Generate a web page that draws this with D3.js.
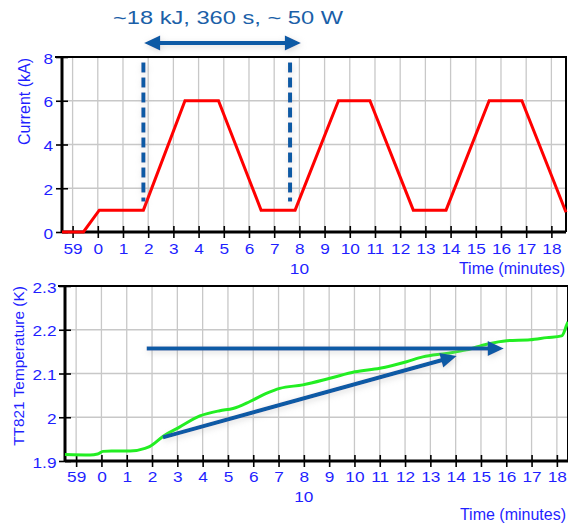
<!DOCTYPE html>
<html>
<head>
<meta charset="utf-8">
<script src="https://cdn.jsdelivr.net/npm/d3@7"></script>
<style>
  body { margin: 0; background: #fff; }
  svg { display: block; font-family: "Liberation Sans", Arial, sans-serif; }
</style>
</head>
<body>
<div id="chart"></div>
<script>
// magnet current, minutes after the hour vs kA
const currentTime = [-1.42, -0.57, 0.06, 1.81, 3.46, 4.79, 6.48, 7.83, 9.55, 10.8, 12.52, 13.82, 15.53, 16.83, 18.58];
const currentKA   = [0, 0, 1, 1, 6, 6, 1, 1, 6, 6, 1, 1, 6, 6, 0.9];

// TT821 temperature, minutes vs K
const tempTime = [-1.44, -0.45, -0.15, 0.06, 0.4, 1.13, 1.72, 1.9, 2.43, 3.1, 3.89, 4.68, 5.2, 5.87, 6.54, 7.05, 7.96, 9.03, 10.02, 11.0, 12.06, 12.7, 13.64, 14.43, 15.23, 16.02, 16.94, 17.6, 18.19, 18.39, 18.44];
const tempK    = [1.915, 1.914, 1.916, 1.922, 1.923, 1.923, 1.929, 1.933, 1.956, 1.978, 2.003, 2.015, 2.02, 2.036, 2.055, 2.066, 2.074, 2.089, 2.104, 2.112, 2.127, 2.138, 2.146, 2.154, 2.167, 2.175, 2.177, 2.182, 2.186, 2.211, 2.218];

// ticks
const minuteTicks = d3.range(-1, 19);
const minuteLabels = ["59", "0", "1", "2", "3", "4", "5", "6", "7", "8", "9", "10", "11", "12", "13", "14", "15", "16", "17", "18"];
const minuteMinor = d3.range(-7, 93).map(d => d / 5).filter(d => !Number.isInteger(d));
const hourLabel = ["10"];
const hourAt = [8];
const currentTicks = [0, 2, 4, 6, 8];
const currentMinor = [1, 3, 5, 7];
const tempTicks = [1.9, 2.0, 2.1, 2.2, 2.3];
const tempLabels = ["1.9", "2", "2.1", "2.2", "2.3"];
const tempMinor = [1.95, 2.05, 2.15, 2.25];

// annotations
const titleText = "~18 kJ, 360 s, ~ 50 W";
const markerTimes = [1.81, 7.63];
const markerRange = [1.4, 7.75];
const spanTimes = [1.84, 8.06];
const spanLevel = [8.64];
const flatTimes = [1.79, 15.9];
const flatLevel = [2.157, 2.157];
const slopeTimes = [2.43, 14.04];
const slopeLevel = [1.954, 2.14];

const W = 568, H = 526;
const blue = "#1f1fff";
const annot = "#0b5aa5";

const svg = d3.select("#chart").append("svg")
  .attr("width", W).attr("height", H);

const defs = svg.append("defs");
const glow = defs.append("filter").attr("id", "glow")
  .attr("x", "-20%").attr("y", "-50%").attr("width", "140%").attr("height", "200%");
glow.append("feGaussianBlur").attr("in", "SourceAlpha").attr("stdDeviation", 3).attr("result", "b");
glow.append("feOffset").attr("in", "b").attr("dx", 1).attr("dy", 2).attr("result", "o");
glow.append("feFlood").attr("flood-color", "#b0b0b0").attr("flood-opacity", 0.45);
glow.append("feComposite").attr("in2", "o").attr("operator", "in").attr("result", "s");
const merge = glow.append("feMerge");
merge.append("feMergeNode").attr("in", "s");
merge.append("feMergeNode").attr("in", "SourceGraphic");

const xTop = d3.scaleLinear().domain([-1.42, 18.58]).range([62, 566]);
const yTop = d3.scaleLinear().domain([0, 8]).range([232, 57]);
const xBot = d3.scaleLinear().domain([-1.44, 18.44]).range([65, 568]);
const yBot = d3.scaleLinear().domain([1.9, 2.3]).range([461, 286]);

function panel(x, y, yTicks, yLabels, yMinor, opt) {
  const g = svg.append("g");
  const [x0, x1] = x.range();
  const [yb, yt] = y.range();

  // grid
  g.append("g").selectAll("line").data(minuteTicks).join("line")
    .attr("x1", d => x(d)).attr("x2", d => x(d))
    .attr("y1", yt).attr("y2", yb)
    .attr("stroke", "#c8c8c8").attr("stroke-width", 1.3);
  g.append("g").selectAll("line").data(yTicks.slice(1, -1)).join("line")
    .attr("x1", x0).attr("x2", x1)
    .attr("y1", d => y(d)).attr("y2", d => y(d))
    .attr("stroke", "#c8c8c8").attr("stroke-width", 1.3);

  // frame top + right
  g.append("path")
    .attr("d", `M${x0 - 7},${yt}H${x1}V${yb}`)
    .attr("fill", "none").attr("stroke", "#000").attr("stroke-width", 2);

  // x axis, crossing ticks
  const xa = g.append("g").attr("transform", `translate(0,${yb})`);
  xa.call(d3.axisBottom(x).tickValues(minuteMinor).tickSize(3.5).tickSizeOuter(0).tickFormat(""));
  xa.call(d3.axisBottom(x).tickValues(minuteTicks).tickSize(6).tickSizeOuter(0)
    .tickFormat((d, i) => minuteLabels[i]));
  xa.selectAll(".tick line").each(function () {
    const l = d3.select(this);
    l.attr("y1", -l.attr("y2"));
  });
  xa.selectAll(".tick line").attr("stroke", "#000").attr("stroke-width", 1.6);
  xa.select(".domain").remove();
  xa.append("line").attr("x1", x0).attr("x2", x1).attr("stroke", "#000").attr("stroke-width", 3);
  xa.selectAll("text")
    .attr("y", opt.tickY).attr("dy", "0.71em")
    .attr("fill", blue).attr("font-size", 15)
    .attr("transform", "scale(1.15,1)");

  // y axis
  const ya = g.append("g").attr("transform", `translate(${x0},0)`);
  ya.call(d3.axisLeft(y).tickValues(yMinor).tickSize(3.5).tickSizeOuter(0).tickFormat(""));
  ya.call(d3.axisLeft(y).tickValues(yTicks).tickSize(6).tickSizeOuter(0)
    .tickFormat((d, i) => yLabels[i]));
  ya.selectAll(".tick line").each(function () {
    const l = d3.select(this);
    l.attr("x1", -l.attr("x2"));
  });
  ya.selectAll(".tick line").attr("stroke", "#000").attr("stroke-width", 1.6);
  ya.select(".domain").remove();
  ya.append("line").attr("y1", yt).attr("y2", yb).attr("stroke", "#000").attr("stroke-width", 3);
  ya.selectAll("text")
    .attr("x", opt.labelX).attr("dy", "0.4em")
    .attr("fill", blue).attr("font-size", 15)
    .attr("transform", "scale(1.15,1)");

  // hour + axis titles
  g.selectAll(".hour").data(hourAt).join("text")
    .attr("transform", d => `translate(${x(d)},${opt.hourY}) scale(1.15,1)`)
    .attr("text-anchor", "middle").attr("fill", blue).attr("font-size", 15)
    .text((d, i) => hourLabel[i]);
  g.append("text")
    .attr("x", opt.timeX).attr("y", opt.timeY)
    .attr("text-anchor", "end").attr("fill", blue).attr("font-size", 16)
    .text("Time (minutes)");
  g.append("text")
    .attr("transform", `translate(${opt.yTitleX},${opt.yTitleY}) rotate(-90)`)
    .attr("text-anchor", "middle").attr("fill", blue).attr("font-size", opt.yTitleSize)
    .text(opt.yTitle);
  return g;
}

const topPanel = panel(xTop, yTop, currentTicks, currentTicks.map(String), currentMinor, {
  tickY: 11.3, labelX: -7.8, hourY: 274, timeX: 565, timeY: 274,
  yTitleX: 30, yTitleY: 101.5, yTitleSize: 16, yTitle: "Current (kA)"
});
const botPanel = panel(xBot, yBot, tempTicks, tempLabels, tempMinor, {
  tickY: 10.3, labelX: -7.4, hourY: 502, timeX: 566, timeY: 520,
  yTitleX: 23.7, yTitleY: 366, yTitleSize: 15.4, yTitle: "TT821 Temperature (K)"
});

// data lines
topPanel.append("path")
  .datum(currentTime.map((t, i) => [t, currentKA[i]]))
  .attr("fill", "none").attr("stroke", "#ff0000").attr("stroke-width", 3)
  .attr("d", d3.line().x(d => xTop(d[0])).y(d => yTop(d[1])));

botPanel.append("path")
  .datum(tempTime.map((t, i) => [t, tempK[i]]))
  .attr("fill", "none").attr("stroke", "#22ee22").attr("stroke-width", 3)
  .attr("d", d3.line().curve(d3.curveMonotoneX).x(d => xBot(d[0])).y(d => yBot(d[1])));

// annotations
function arrow(g, x0, y0, x1, y1, both) {
  const L = Math.hypot(x1 - x0, y1 - y0), ux = (x1 - x0) / L, uy = (y1 - y0) / L;
  const head = 16, half = 7.5;
  const tri = (tx, ty, vx, vy) => {
    const bx = tx - vx * head, by = ty - vy * head;
    return `M${tx},${ty}L${bx - vy * half},${by + vx * half}L${bx + vy * half},${by - vx * half}Z`;
  };
  const a = g.append("g").attr("filter", "url(#glow)");
  const s = both ? head - 3 : 0;
  a.append("line")
    .attr("x1", x0 + ux * s).attr("y1", y0 + uy * s)
    .attr("x2", x1 - ux * (head - 3)).attr("y2", y1 - uy * (head - 3))
    .attr("stroke", annot).attr("stroke-width", 4);
  a.append("path").attr("d", tri(x1, y1, ux, uy)).attr("fill", annot);
  if (both) a.append("path").attr("d", tri(x0, y0, -ux, -uy)).attr("fill", annot);
}

topPanel.append("g").attr("filter", "url(#glow)")
  .selectAll("line").data(markerTimes).join("line")
  .attr("x1", d => xTop(d)).attr("x2", d => xTop(d))
  .attr("y1", yTop(markerRange[1])).attr("y2", yTop(markerRange[0]))
  .attr("stroke", annot).attr("stroke-width", 4).attr("stroke-dasharray", "10,5");

arrow(svg, xTop(spanTimes[0]), yTop(spanLevel[0]), xTop(spanTimes[1]), yTop(spanLevel[0]), true);
arrow(svg, xBot(flatTimes[0]), yBot(flatLevel[0]), xBot(flatTimes[1]), yBot(flatLevel[1]), false);
arrow(svg, xBot(slopeTimes[0]), yBot(slopeLevel[0]), xBot(slopeTimes[1]), yBot(slopeLevel[1]), false);

svg.append("text")
  .attr("x", 113).attr("y", 24)
  .attr("fill", "#1b5fa8").attr("font-size", 18.5)
  .attr("textLength", 230).attr("lengthAdjust", "spacingAndGlyphs")
  .text(titleText);
</script>
</body>
</html>
